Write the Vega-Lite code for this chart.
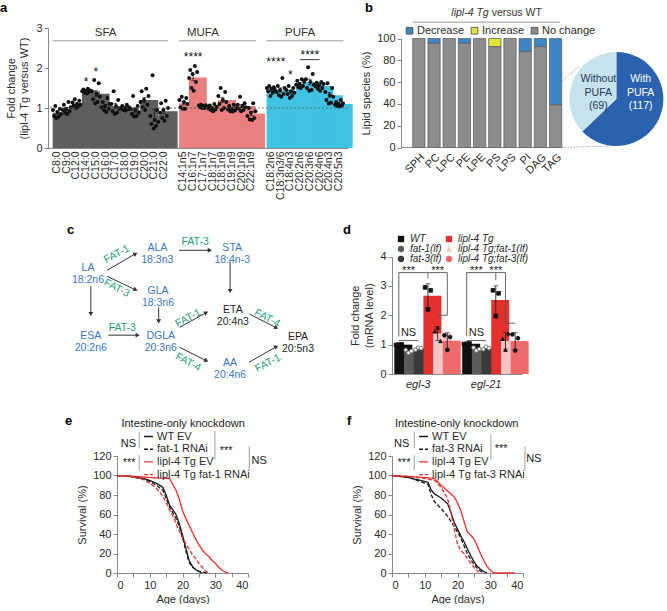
{
"$schema": "https://vega.github.io/schema/vega-lite/v6.json",
"padding": {"left": 0, "top": 1, "right": 0, "bottom": 0},
"background": "#ffffff",
"config": {
 "font": "Liberation Sans",
 "view": {"stroke": null},
 "axis": {"labelFont": "Liberation Sans", "titleFont": "Liberation Sans", "labelFontSize": 11, "titleFontSize": 11, "labelColor": "#2b2b2b", "titleColor": "#2b2b2b", "titleFontWeight": "normal", "domainColor": "#6b6b6b", "tickColor": "#6b6b6b", "domainWidth": 0.8, "tickWidth": 0.8, "tickSize": 4, "grid": false, "labelPadding": 2},
 "legend": {"labelFont": "Liberation Sans", "labelFontSize": 11, "labelColor": "#2b2b2b"},
 "title": {"font": "Liberation Sans", "fontSize": 13, "fontWeight": "bold", "anchor": "start", "frame": "group", "baseline": "alphabetic", "color": "#000000"},
 "text": {"font": "Liberation Sans", "fontSize": 11, "color": "#2b2b2b"}
},
"datasets": {
 "fa": [
  {"fa":"C8:0","g":"SFA","r":3,"v":1.05},{"fa":"C8:0","g":"SFA","r":7,"v":0.98},{"fa":"C8:0","g":"SFA","r":1,"v":0.95},{"fa":"C8:0","g":"SFA","r":5,"v":0.9},{"fa":"C8:0","g":"SFA","r":8,"v":0.85},{"fa":"C8:0","g":"SFA","r":2,"v":0.8},{"fa":"C8:0","g":"SFA","r":6,"v":0.78},{"fa":"C8:0","g":"SFA","r":4,"v":0.75},
  {"fa":"C9:0","g":"SFA","r":6,"v":1.15},{"fa":"C9:0","g":"SFA","r":2,"v":1.08},{"fa":"C9:0","g":"SFA","r":8,"v":1.02},{"fa":"C9:0","g":"SFA","r":4,"v":0.98},{"fa":"C9:0","g":"SFA","r":1,"v":0.95},{"fa":"C9:0","g":"SFA","r":7,"v":0.92},{"fa":"C9:0","g":"SFA","r":3,"v":0.88},{"fa":"C9:0","g":"SFA","r":5,"v":0.85},
  {"fa":"C12:0","g":"SFA","r":3,"v":1.22},{"fa":"C12:0","g":"SFA","r":7,"v":1.18},{"fa":"C12:0","g":"SFA","r":1,"v":1.14},{"fa":"C12:0","g":"SFA","r":5,"v":1.1},{"fa":"C12:0","g":"SFA","r":8,"v":1.08},{"fa":"C12:0","g":"SFA","r":2,"v":1.06},{"fa":"C12:0","g":"SFA","r":6,"v":1.03},{"fa":"C12:0","g":"SFA","r":4,"v":1.0},
  {"fa":"C14:0","g":"SFA","r":6,"v":1.48},{"fa":"C14:0","g":"SFA","r":2,"v":1.46},{"fa":"C14:0","g":"SFA","r":8,"v":1.44},{"fa":"C14:0","g":"SFA","r":4,"v":1.43},{"fa":"C14:0","g":"SFA","r":1,"v":1.42},{"fa":"C14:0","g":"SFA","r":7,"v":1.4},{"fa":"C14:0","g":"SFA","r":3,"v":1.38},{"fa":"C14:0","g":"SFA","r":5,"v":1.36},
  {"fa":"C15:0","g":"SFA","r":3,"v":1.7},{"fa":"C15:0","g":"SFA","r":7,"v":1.62},{"fa":"C15:0","g":"SFA","r":1,"v":1.42},{"fa":"C15:0","g":"SFA","r":5,"v":1.35},{"fa":"C15:0","g":"SFA","r":8,"v":1.28},{"fa":"C15:0","g":"SFA","r":2,"v":1.22},{"fa":"C15:0","g":"SFA","r":6,"v":1.15},{"fa":"C15:0","g":"SFA","r":4,"v":1.12},
  {"fa":"C16:0","g":"SFA","r":6,"v":1.25},{"fa":"C16:0","g":"SFA","r":2,"v":1.15},{"fa":"C16:0","g":"SFA","r":8,"v":1.1},{"fa":"C16:0","g":"SFA","r":4,"v":1.05},{"fa":"C16:0","g":"SFA","r":1,"v":1.02},{"fa":"C16:0","g":"SFA","r":7,"v":0.98},{"fa":"C16:0","g":"SFA","r":3,"v":0.95},{"fa":"C16:0","g":"SFA","r":5,"v":0.9},
  {"fa":"C17:0","g":"SFA","r":3,"v":1.42},{"fa":"C17:0","g":"SFA","r":7,"v":1.2},{"fa":"C17:0","g":"SFA","r":1,"v":1.1},{"fa":"C17:0","g":"SFA","r":5,"v":1.05},{"fa":"C17:0","g":"SFA","r":8,"v":0.98},{"fa":"C17:0","g":"SFA","r":2,"v":0.92},{"fa":"C17:0","g":"SFA","r":6,"v":0.88},{"fa":"C17:0","g":"SFA","r":4,"v":0.85},
  {"fa":"C18:0","g":"SFA","r":6,"v":1.08},{"fa":"C18:0","g":"SFA","r":2,"v":1.05},{"fa":"C18:0","g":"SFA","r":8,"v":1.02},{"fa":"C18:0","g":"SFA","r":4,"v":1.0},{"fa":"C18:0","g":"SFA","r":1,"v":0.99},{"fa":"C18:0","g":"SFA","r":7,"v":0.97},{"fa":"C18:0","g":"SFA","r":3,"v":0.95},{"fa":"C18:0","g":"SFA","r":5,"v":0.94},
  {"fa":"C19:0","g":"SFA","r":3,"v":1.3},{"fa":"C19:0","g":"SFA","r":7,"v":1.05},{"fa":"C19:0","g":"SFA","r":1,"v":0.98},{"fa":"C19:0","g":"SFA","r":5,"v":0.95},{"fa":"C19:0","g":"SFA","r":8,"v":0.88},{"fa":"C19:0","g":"SFA","r":2,"v":0.85},{"fa":"C19:0","g":"SFA","r":6,"v":0.8},{"fa":"C19:0","g":"SFA","r":4,"v":0.79},
  {"fa":"C20:0","g":"SFA","r":6,"v":1.48},{"fa":"C20:0","g":"SFA","r":2,"v":1.42},{"fa":"C20:0","g":"SFA","r":8,"v":1.3},{"fa":"C20:0","g":"SFA","r":4,"v":1.2},{"fa":"C20:0","g":"SFA","r":1,"v":1.15},{"fa":"C20:0","g":"SFA","r":7,"v":1.08},{"fa":"C20:0","g":"SFA","r":3,"v":1.02},{"fa":"C20:0","g":"SFA","r":5,"v":0.95},
  {"fa":"C21:0","g":"SFA","r":3,"v":1.82},{"fa":"C21:0","g":"SFA","r":7,"v":0.95},{"fa":"C21:0","g":"SFA","r":1,"v":0.8},{"fa":"C21:0","g":"SFA","r":5,"v":0.7},{"fa":"C21:0","g":"SFA","r":8,"v":0.65},{"fa":"C21:0","g":"SFA","r":2,"v":0.6},{"fa":"C21:0","g":"SFA","r":6,"v":0.55},{"fa":"C21:0","g":"SFA","r":4,"v":0.49},
  {"fa":"C22:0","g":"SFA","r":6,"v":1.18},{"fa":"C22:0","g":"SFA","r":2,"v":1.12},{"fa":"C22:0","g":"SFA","r":8,"v":1.0},{"fa":"C22:0","g":"SFA","r":4,"v":0.95},{"fa":"C22:0","g":"SFA","r":1,"v":0.88},{"fa":"C22:0","g":"SFA","r":7,"v":0.8},{"fa":"C22:0","g":"SFA","r":3,"v":0.75},{"fa":"C22:0","g":"SFA","r":5,"v":0.68},
  {"fa":"C14:1n5","g":"MUFA","r":3,"v":1.28},{"fa":"C14:1n5","g":"MUFA","r":7,"v":1.25},{"fa":"C14:1n5","g":"MUFA","r":1,"v":1.2},{"fa":"C14:1n5","g":"MUFA","r":5,"v":1.15},{"fa":"C14:1n5","g":"MUFA","r":8,"v":1.1},{"fa":"C14:1n5","g":"MUFA","r":2,"v":1.02},{"fa":"C14:1n5","g":"MUFA","r":6,"v":0.98},{"fa":"C14:1n5","g":"MUFA","r":4,"v":0.98},
  {"fa":"C16:1n7","g":"MUFA","r":6,"v":2.05},{"fa":"C16:1n7","g":"MUFA","r":2,"v":1.95},{"fa":"C16:1n7","g":"MUFA","r":8,"v":1.9},{"fa":"C16:1n7","g":"MUFA","r":4,"v":1.85},{"fa":"C16:1n7","g":"MUFA","r":1,"v":1.75},{"fa":"C16:1n7","g":"MUFA","r":7,"v":1.65},{"fa":"C16:1n7","g":"MUFA","r":3,"v":1.5},{"fa":"C16:1n7","g":"MUFA","r":5,"v":1.43},
  {"fa":"C17:1n7","g":"MUFA","r":3,"v":1.08},{"fa":"C17:1n7","g":"MUFA","r":7,"v":1.07},{"fa":"C17:1n7","g":"MUFA","r":1,"v":1.06},{"fa":"C17:1n7","g":"MUFA","r":5,"v":1.05},{"fa":"C17:1n7","g":"MUFA","r":8,"v":1.04},{"fa":"C17:1n7","g":"MUFA","r":2,"v":1.02},{"fa":"C17:1n7","g":"MUFA","r":6,"v":1.0},{"fa":"C17:1n7","g":"MUFA","r":4,"v":1.0},
  {"fa":"C18:1n7","g":"MUFA","r":6,"v":1.1},{"fa":"C18:1n7","g":"MUFA","r":2,"v":1.06},{"fa":"C18:1n7","g":"MUFA","r":8,"v":1.03},{"fa":"C18:1n7","g":"MUFA","r":4,"v":1.0},{"fa":"C18:1n7","g":"MUFA","r":1,"v":0.98},{"fa":"C18:1n7","g":"MUFA","r":7,"v":0.96},{"fa":"C18:1n7","g":"MUFA","r":3,"v":0.95},{"fa":"C18:1n7","g":"MUFA","r":5,"v":0.92},
  {"fa":"C18:1n9","g":"MUFA","r":3,"v":1.5},{"fa":"C18:1n9","g":"MUFA","r":7,"v":1.4},{"fa":"C18:1n9","g":"MUFA","r":1,"v":1.3},{"fa":"C18:1n9","g":"MUFA","r":5,"v":1.2},{"fa":"C18:1n9","g":"MUFA","r":8,"v":1.15},{"fa":"C18:1n9","g":"MUFA","r":2,"v":1.1},{"fa":"C18:1n9","g":"MUFA","r":6,"v":1.0},{"fa":"C18:1n9","g":"MUFA","r":4,"v":0.95},
  {"fa":"C19:1n9","g":"MUFA","r":6,"v":1.08},{"fa":"C19:1n9","g":"MUFA","r":2,"v":1.05},{"fa":"C19:1n9","g":"MUFA","r":8,"v":1.0},{"fa":"C19:1n9","g":"MUFA","r":4,"v":0.98},{"fa":"C19:1n9","g":"MUFA","r":1,"v":0.96},{"fa":"C19:1n9","g":"MUFA","r":7,"v":0.94},{"fa":"C19:1n9","g":"MUFA","r":3,"v":0.92},{"fa":"C19:1n9","g":"MUFA","r":5,"v":0.91},
  {"fa":"C20:1n9","g":"MUFA","r":3,"v":1.28},{"fa":"C20:1n9","g":"MUFA","r":7,"v":1.12},{"fa":"C20:1n9","g":"MUFA","r":1,"v":1.08},{"fa":"C20:1n9","g":"MUFA","r":5,"v":1.05},{"fa":"C20:1n9","g":"MUFA","r":8,"v":1.02},{"fa":"C20:1n9","g":"MUFA","r":2,"v":0.98},{"fa":"C20:1n9","g":"MUFA","r":6,"v":0.95},{"fa":"C20:1n9","g":"MUFA","r":4,"v":0.92},
  {"fa":"C22:1n9","g":"MUFA","r":6,"v":1.12},{"fa":"C22:1n9","g":"MUFA","r":2,"v":1.0},{"fa":"C22:1n9","g":"MUFA","r":8,"v":0.92},{"fa":"C22:1n9","g":"MUFA","r":4,"v":0.88},{"fa":"C22:1n9","g":"MUFA","r":1,"v":0.8},{"fa":"C22:1n9","g":"MUFA","r":7,"v":0.75},{"fa":"C22:1n9","g":"MUFA","r":3,"v":0.71},{"fa":"C22:1n9","g":"MUFA","r":5,"v":0.7},
  {"fa":"C18:2n6","g":"PUFA","r":3,"v":1.55},{"fa":"C18:2n6","g":"PUFA","r":7,"v":1.52},{"fa":"C18:2n6","g":"PUFA","r":1,"v":1.5},{"fa":"C18:2n6","g":"PUFA","r":5,"v":1.48},{"fa":"C18:2n6","g":"PUFA","r":8,"v":1.45},{"fa":"C18:2n6","g":"PUFA","r":2,"v":1.42},{"fa":"C18:2n6","g":"PUFA","r":6,"v":1.38},{"fa":"C18:2n6","g":"PUFA","r":4,"v":1.3},
  {"fa":"C18:3n3/6","g":"PUFA","r":6,"v":1.75},{"fa":"C18:3n3/6","g":"PUFA","r":2,"v":1.55},{"fa":"C18:3n3/6","g":"PUFA","r":8,"v":1.5},{"fa":"C18:3n3/6","g":"PUFA","r":4,"v":1.45},{"fa":"C18:3n3/6","g":"PUFA","r":1,"v":1.4},{"fa":"C18:3n3/6","g":"PUFA","r":7,"v":1.35},{"fa":"C18:3n3/6","g":"PUFA","r":3,"v":1.32},{"fa":"C18:3n3/6","g":"PUFA","r":5,"v":1.28},
  {"fa":"C18:4n3","g":"PUFA","r":3,"v":1.55},{"fa":"C18:4n3","g":"PUFA","r":7,"v":1.5},{"fa":"C18:4n3","g":"PUFA","r":1,"v":1.45},{"fa":"C18:4n3","g":"PUFA","r":5,"v":1.42},{"fa":"C18:4n3","g":"PUFA","r":8,"v":1.38},{"fa":"C18:4n3","g":"PUFA","r":2,"v":1.35},{"fa":"C18:4n3","g":"PUFA","r":6,"v":1.3},{"fa":"C18:4n3","g":"PUFA","r":4,"v":1.25},
  {"fa":"C20:2n6","g":"PUFA","r":6,"v":1.72},{"fa":"C20:2n6","g":"PUFA","r":2,"v":1.68},{"fa":"C20:2n6","g":"PUFA","r":8,"v":1.65},{"fa":"C20:2n6","g":"PUFA","r":4,"v":1.6},{"fa":"C20:2n6","g":"PUFA","r":1,"v":1.58},{"fa":"C20:2n6","g":"PUFA","r":7,"v":1.55},{"fa":"C20:2n6","g":"PUFA","r":3,"v":1.52},{"fa":"C20:2n6","g":"PUFA","r":5,"v":1.5},
  {"fa":"C20:3n6","g":"PUFA","r":3,"v":2.02},{"fa":"C20:3n6","g":"PUFA","r":7,"v":1.85},{"fa":"C20:3n6","g":"PUFA","r":1,"v":1.72},{"fa":"C20:3n6","g":"PUFA","r":5,"v":1.65},{"fa":"C20:3n6","g":"PUFA","r":8,"v":1.58},{"fa":"C20:3n6","g":"PUFA","r":2,"v":1.5},{"fa":"C20:3n6","g":"PUFA","r":6,"v":1.45},{"fa":"C20:3n6","g":"PUFA","r":4,"v":1.43},
  {"fa":"C20:4n6","g":"PUFA","r":6,"v":1.65},{"fa":"C20:4n6","g":"PUFA","r":2,"v":1.63},{"fa":"C20:4n6","g":"PUFA","r":8,"v":1.6},{"fa":"C20:4n6","g":"PUFA","r":4,"v":1.57},{"fa":"C20:4n6","g":"PUFA","r":1,"v":1.54},{"fa":"C20:4n6","g":"PUFA","r":7,"v":1.5},{"fa":"C20:4n6","g":"PUFA","r":3,"v":1.48},{"fa":"C20:4n6","g":"PUFA","r":5,"v":1.43},
  {"fa":"C20:4n3","g":"PUFA","r":3,"v":1.62},{"fa":"C20:4n3","g":"PUFA","r":7,"v":1.5},{"fa":"C20:4n3","g":"PUFA","r":1,"v":1.4},{"fa":"C20:4n3","g":"PUFA","r":5,"v":1.32},{"fa":"C20:4n3","g":"PUFA","r":8,"v":1.28},{"fa":"C20:4n3","g":"PUFA","r":2,"v":1.2},{"fa":"C20:4n3","g":"PUFA","r":6,"v":1.13},{"fa":"C20:4n3","g":"PUFA","r":4,"v":1.11},
  {"fa":"C20:5n3","g":"PUFA","r":6,"v":1.2},{"fa":"C20:5n3","g":"PUFA","r":2,"v":1.15},{"fa":"C20:5n3","g":"PUFA","r":8,"v":1.12},{"fa":"C20:5n3","g":"PUFA","r":4,"v":1.1},{"fa":"C20:5n3","g":"PUFA","r":1,"v":1.08},{"fa":"C20:5n3","g":"PUFA","r":7,"v":1.06},{"fa":"C20:5n3","g":"PUFA","r":3,"v":1.05},{"fa":"C20:5n3","g":"PUFA","r":5,"v":1.04}
 ],
 "fahdr": [
  {"a":"C8:0","b":"C22:0","v":2.68,"c":"C16:0","tv":2.87,"t":"SFA"},
  {"a":"C14:1n5","b":"C22:1n9","v":2.68,"c":"C17:1n7","tv":2.87,"t":"MUFA"},
  {"a":"C18:2n6","b":"C20:5n3","v":2.68,"c":"C20:2n6","tv":2.87,"t":"PUFA"}
 ],
 "fastar": [
  {"fa":"C14:0","v":1.55,"t":"*"},{"fa":"C15:0","v":1.8,"t":"*"},{"fa":"C16:1n7","v":2.17,"t":"****"},
  {"fa":"C18:2n6","v":2.05,"t":"**"},{"fa":"C18:3n3/6","v":2.05,"t":"**"},{"fa":"C18:4n3","v":1.72,"t":"*"},{"fa":"C20:3n6","v":2.22,"t":"****"}
 ],
 "lip": [
  {"c":"SPH","k":"No change","p":100},
  {"c":"PC","k":"Decrease","p":4.5},{"c":"PC","k":"No change","p":95.5},
  {"c":"LPC","k":"No change","p":100},
  {"c":"PE","k":"Decrease","p":4.5},{"c":"PE","k":"No change","p":95.5},
  {"c":"LPE","k":"No change","p":100},
  {"c":"PS","k":"Increase","p":7.5},{"c":"PS","k":"No change","p":92.5},
  {"c":"LPS","k":"No change","p":100},
  {"c":"PI","k":"Decrease","p":12},{"c":"PI","k":"No change","p":88},
  {"c":"DAG","k":"Decrease","p":7.5},{"c":"DAG","k":"No change","p":92.5},
  {"c":"TAG","k":"Decrease","p":61},{"c":"TAG","k":"No change","p":39}
 ],
 "pie": [{"grp":"With PUFA","n":117},{"grp":"Without PUFA","n":69}],
 "conn": [{"from":"TAG","to":"_2","y1":61,"y2":75},{"from":"TAG","to":"_4","y1":0,"y2":1.4}],
 "nodes": [
  {"n":"LA\n18:2n6","u":0,"v":1.0,"hl":"yes"},
  {"n":"ALA\n18:3n3","u":0.99,"v":0.12,"hl":"yes"},
  {"n":"STA\n18:4n-3","u":2.06,"v":0.12,"hl":"yes"},
  {"n":"GLA\n18:3n6","u":1.0,"v":2.01,"hl":"yes"},
  {"n":"ETA\n20:4n3","u":2.07,"v":2.84,"hl":"no"},
  {"n":"ESA\n20:2n6","u":0.04,"v":3.97,"hl":"yes"},
  {"n":"DGLA\n20:3n6","u":1.04,"v":3.97,"hl":"yes"},
  {"n":"EPA\n20:5n3","u":3.0,"v":4.01,"hl":"no"},
  {"n":"AA\n20:4n6","u":2.03,"v":5.14,"hl":"yes"}
 ],
 "edges": [
  {"u1":0.27,"v1":1.10,"u2":0.68,"v2":0.38,"dir":"ne"},
  {"u1":0.27,"v1":1.36,"u2":0.68,"v2":1.95,"dir":"se"},
  {"u1":1.30,"v1":0.23,"u2":1.74,"v2":0.23,"dir":"e"},
  {"u1":2.03,"v1":0.71,"u2":2.03,"v2":2.0,"dir":"s"},
  {"u1":0.04,"v1":1.79,"u2":0.04,"v2":3.0,"dir":"s"},
  {"u1":1.01,"v1":2.71,"u2":1.01,"v2":3.32,"dir":"s"},
  {"u1":0.29,"v1":3.92,"u2":0.71,"v2":3.92,"dir":"e"},
  {"u1":1.31,"v1":3.58,"u2":1.69,"v2":2.94,"dir":"ne"},
  {"u1":2.31,"v1":3.01,"u2":2.69,"v2":3.6,"dir":"se"},
  {"u1":1.31,"v1":4.45,"u2":1.69,"v2":5.03,"dir":"se"},
  {"u1":2.30,"v1":5.10,"u2":2.69,"v2":4.42,"dir":"ne"}
 ],
 "enz": [
  {"e":"FAT-1","u":0.41,"v":0.4,"tilt":"up"},
  {"e":"FAT-3","u":0.41,"v":1.88,"tilt":"down"},
  {"e":"FAT-3","u":1.53,"v":-0.12,"tilt":"flat"},
  {"e":"FAT-3","u":0.49,"v":3.62,"tilt":"flat"},
  {"e":"FAT-1","u":1.43,"v":3.18,"tilt":"up"},
  {"e":"FAT-4","u":2.56,"v":3.18,"tilt":"down"},
  {"e":"FAT-4","u":1.43,"v":5.1,"tilt":"down"},
  {"e":"FAT-1","u":2.57,"v":5.14,"tilt":"up"}
 ],
 "q": [
  {"gt":"WT","slot":"egl-3/WT","rep":1,"v":0.99},{"gt":"WT","slot":"egl-3/WT","rep":2,"v":1.0},{"gt":"WT","slot":"egl-3/WT","rep":3,"v":1.01},
  {"gt":"fat-1(lf)","slot":"egl-3/fat-1(lf)","rep":1,"v":0.82},{"gt":"fat-1(lf)","slot":"egl-3/fat-1(lf)","rep":2,"v":0.72},{"gt":"fat-1(lf)","slot":"egl-3/fat-1(lf)","rep":3,"v":0.78},
  {"gt":"fat-3(lf)","slot":"egl-3/fat-3(lf)","rep":1,"v":0.83},{"gt":"fat-3(lf)","slot":"egl-3/fat-3(lf)","rep":2,"v":0.9},{"gt":"fat-3(lf)","slot":"egl-3/fat-3(lf)","rep":3,"v":0.88},
  {"gt":"lipl-4 Tg","slot":"egl-3/lipl-4 Tg","rep":1,"v":2.95},{"gt":"lipl-4 Tg","slot":"egl-3/lipl-4 Tg","rep":2,"v":2.2},{"gt":"lipl-4 Tg","slot":"egl-3/lipl-4 Tg","rep":3,"v":2.85},
  {"gt":"lipl-4 Tg;fat-1(lf)","slot":"egl-3/lipl-4 Tg;fat-1(lf)","rep":1,"v":1.45},{"gt":"lipl-4 Tg;fat-1(lf)","slot":"egl-3/lipl-4 Tg;fat-1(lf)","rep":2,"v":1.58},{"gt":"lipl-4 Tg;fat-1(lf)","slot":"egl-3/lipl-4 Tg;fat-1(lf)","rep":3,"v":1.12},
  {"gt":"lipl-4 Tg;fat-3(lf)","slot":"egl-3/lipl-4 Tg;fat-3(lf)","rep":1,"v":1.32},{"gt":"lipl-4 Tg;fat-3(lf)","slot":"egl-3/lipl-4 Tg;fat-3(lf)","rep":2,"v":0.82},{"gt":"lipl-4 Tg;fat-3(lf)","slot":"egl-3/lipl-4 Tg;fat-3(lf)","rep":3,"v":1.26},
  {"gt":"WT","slot":"egl-21/WT","rep":1,"v":1.02},{"gt":"WT","slot":"egl-21/WT","rep":2,"v":1.03},{"gt":"WT","slot":"egl-21/WT","rep":3,"v":1.04},
  {"gt":"fat-1(lf)","slot":"egl-21/fat-1(lf)","rep":1,"v":0.9},{"gt":"fat-1(lf)","slot":"egl-21/fat-1(lf)","rep":2,"v":0.8},{"gt":"fat-1(lf)","slot":"egl-21/fat-1(lf)","rep":3,"v":0.85},
  {"gt":"fat-3(lf)","slot":"egl-21/fat-3(lf)","rep":1,"v":0.84},{"gt":"fat-3(lf)","slot":"egl-21/fat-3(lf)","rep":2,"v":0.93},{"gt":"fat-3(lf)","slot":"egl-21/fat-3(lf)","rep":3,"v":0.88},
  {"gt":"lipl-4 Tg","slot":"egl-21/lipl-4 Tg","rep":1,"v":2.85},{"gt":"lipl-4 Tg","slot":"egl-21/lipl-4 Tg","rep":2,"v":1.97},{"gt":"lipl-4 Tg","slot":"egl-21/lipl-4 Tg","rep":3,"v":2.75},
  {"gt":"lipl-4 Tg;fat-1(lf)","slot":"egl-21/lipl-4 Tg;fat-1(lf)","rep":1,"v":1.2},{"gt":"lipl-4 Tg;fat-1(lf)","slot":"egl-21/lipl-4 Tg;fat-1(lf)","rep":2,"v":0.82},{"gt":"lipl-4 Tg;fat-1(lf)","slot":"egl-21/lipl-4 Tg;fat-1(lf)","rep":3,"v":1.38},
  {"gt":"lipl-4 Tg;fat-3(lf)","slot":"egl-21/lipl-4 Tg;fat-3(lf)","rep":1,"v":1.35},{"gt":"lipl-4 Tg;fat-3(lf)","slot":"egl-21/lipl-4 Tg;fat-3(lf)","rep":2,"v":0.8},{"gt":"lipl-4 Tg;fat-3(lf)","slot":"egl-21/lipl-4 Tg;fat-3(lf)","rep":3,"v":1.22}
 ],
 "dbr": [
  {"a":"egl-3/WT","b":"egl-3/lipl-4 Tg","y1":3.455,"y2":3.455},
  {"a":"egl-3/lipl-4 Tg","b":"egl-3/lipl-4 Tg;fat-3(lf)","y1":3.455,"y2":3.455},
  {"a":"egl-3/WT","b":"egl-3/WT","y1":3.455,"y2":1.28},
  {"a":"egl-3/lipl-4 Tg","b":"egl-3/lipl-4 Tg","y1":3.455,"y2":3.26},
  {"a":"egl-3/lipl-4 Tg;fat-3(lf)","b":"egl-3/lipl-4 Tg;fat-3(lf)","y1":3.455,"y2":2.0},
  {"a":"egl-3/lipl-4 Tg;fat-1(lf)","b":"egl-3/lipl-4 Tg;fat-3(lf)","y1":2.0,"y2":2.0},
  {"a":"egl-3/WT","b":"egl-3/fat-3(lf)","y1":1.14,"y2":1.14},
  {"a":"egl-21/WT","b":"egl-21/lipl-4 Tg","y1":3.455,"y2":3.455},
  {"a":"egl-21/lipl-4 Tg","b":"egl-21/lipl-4 Tg;fat-1(lf)","y1":3.455,"y2":3.455},
  {"a":"egl-21/WT","b":"egl-21/WT","y1":3.455,"y2":1.28},
  {"a":"egl-21/lipl-4 Tg","b":"egl-21/lipl-4 Tg","y1":3.455,"y2":3.2},
  {"a":"egl-21/lipl-4 Tg;fat-1(lf)","b":"egl-21/lipl-4 Tg;fat-1(lf)","y1":3.455,"y2":1.73},
  {"a":"egl-21/lipl-4 Tg;fat-1(lf)","b":"egl-21/lipl-4 Tg;fat-3(lf)","y1":1.73,"y2":1.73},
  {"a":"egl-21/WT","b":"egl-21/fat-3(lf)","y1":1.14,"y2":1.14}
 ],
 "dtx": [
  {"slot":"egl-3/fat-1(lf)","v":3.41,"t":"***"},
  {"slot":"egl-3/lipl-4 Tg;fat-1(lf)","v":3.41,"t":"***"},
  {"slot":"egl-21/fat-1(lf)","v":3.41,"t":"***"},
  {"slot":"egl-21/lipl-4 Tg","v":3.41,"t":"***"},
  {"slot":"egl-3/fat-1(lf)","v":1.28,"t":"NS"},
  {"slot":"egl-21/fat-1(lf)","v":1.28,"t":"NS"}
 ],
 "se": [
  {"grp":"WT EV","d":0,"s":100},{"grp":"WT EV","d":4,"s":99},{"grp":"WT EV","d":8,"s":97},{"grp":"WT EV","d":10,"s":95},{"grp":"WT EV","d":12,"s":92},{"grp":"WT EV","d":14,"s":88},{"grp":"WT EV","d":15,"s":80},{"grp":"WT EV","d":16,"s":70},{"grp":"WT EV","d":17,"s":65},{"grp":"WT EV","d":18,"s":60},{"grp":"WT EV","d":19,"s":51},{"grp":"WT EV","d":20,"s":39},{"grp":"WT EV","d":21,"s":26},{"grp":"WT EV","d":22,"s":13},{"grp":"WT EV","d":23,"s":7},{"grp":"WT EV","d":24,"s":3.5},{"grp":"WT EV","d":25,"s":1.5},{"grp":"WT EV","d":26,"s":0},
  {"grp":"fat-1 RNAi","d":0,"s":100},{"grp":"fat-1 RNAi","d":4,"s":99},{"grp":"fat-1 RNAi","d":8,"s":96.5},{"grp":"fat-1 RNAi","d":10,"s":94},{"grp":"fat-1 RNAi","d":12,"s":90},{"grp":"fat-1 RNAi","d":14,"s":85},{"grp":"fat-1 RNAi","d":15,"s":77},{"grp":"fat-1 RNAi","d":16,"s":68},{"grp":"fat-1 RNAi","d":17,"s":62},{"grp":"fat-1 RNAi","d":18,"s":56},{"grp":"fat-1 RNAi","d":19,"s":48},{"grp":"fat-1 RNAi","d":20,"s":37},{"grp":"fat-1 RNAi","d":21,"s":23},{"grp":"fat-1 RNAi","d":22,"s":11},{"grp":"fat-1 RNAi","d":23,"s":6},{"grp":"fat-1 RNAi","d":24,"s":3.5},{"grp":"fat-1 RNAi","d":25,"s":2},{"grp":"fat-1 RNAi","d":26,"s":1},{"grp":"fat-1 RNAi","d":27.5,"s":0},
  {"grp":"lipl-4 Tg EV","d":0,"s":100},{"grp":"lipl-4 Tg EV","d":4,"s":99.5},{"grp":"lipl-4 Tg EV","d":8,"s":98.5},{"grp":"lipl-4 Tg EV","d":12,"s":97.5},{"grp":"lipl-4 Tg EV","d":16,"s":97},{"grp":"lipl-4 Tg EV","d":17,"s":91},{"grp":"lipl-4 Tg EV","d":18,"s":85},{"grp":"lipl-4 Tg EV","d":19,"s":76},{"grp":"lipl-4 Tg EV","d":20,"s":64},{"grp":"lipl-4 Tg EV","d":21,"s":56},{"grp":"lipl-4 Tg EV","d":22,"s":49},{"grp":"lipl-4 Tg EV","d":23,"s":42},{"grp":"lipl-4 Tg EV","d":24,"s":35},{"grp":"lipl-4 Tg EV","d":25,"s":29},{"grp":"lipl-4 Tg EV","d":26,"s":24},{"grp":"lipl-4 Tg EV","d":27,"s":20},{"grp":"lipl-4 Tg EV","d":28,"s":17},{"grp":"lipl-4 Tg EV","d":29,"s":13},{"grp":"lipl-4 Tg EV","d":30,"s":10},{"grp":"lipl-4 Tg EV","d":31,"s":6},{"grp":"lipl-4 Tg EV","d":32,"s":3},{"grp":"lipl-4 Tg EV","d":33,"s":1},{"grp":"lipl-4 Tg EV","d":34,"s":0},
  {"grp":"lipl-4 Tg fat-1 RNAi","d":0,"s":100},{"grp":"lipl-4 Tg fat-1 RNAi","d":4,"s":99},{"grp":"lipl-4 Tg fat-1 RNAi","d":8,"s":96},{"grp":"lipl-4 Tg fat-1 RNAi","d":10,"s":92},{"grp":"lipl-4 Tg fat-1 RNAi","d":12,"s":87},{"grp":"lipl-4 Tg fat-1 RNAi","d":14,"s":79},{"grp":"lipl-4 Tg fat-1 RNAi","d":15,"s":72},{"grp":"lipl-4 Tg fat-1 RNAi","d":16,"s":65},{"grp":"lipl-4 Tg fat-1 RNAi","d":17,"s":59},{"grp":"lipl-4 Tg fat-1 RNAi","d":18,"s":51},{"grp":"lipl-4 Tg fat-1 RNAi","d":19,"s":43},{"grp":"lipl-4 Tg fat-1 RNAi","d":20,"s":36},{"grp":"lipl-4 Tg fat-1 RNAi","d":21,"s":30},{"grp":"lipl-4 Tg fat-1 RNAi","d":22,"s":25},{"grp":"lipl-4 Tg fat-1 RNAi","d":23,"s":19},{"grp":"lipl-4 Tg fat-1 RNAi","d":24,"s":15},{"grp":"lipl-4 Tg fat-1 RNAi","d":25,"s":10},{"grp":"lipl-4 Tg fat-1 RNAi","d":26,"s":6},{"grp":"lipl-4 Tg fat-1 RNAi","d":27,"s":2},{"grp":"lipl-4 Tg fat-1 RNAi","d":28,"s":0}
 ],
 "sf": [
  {"grp":"WT EV","d":0,"s":100},{"grp":"WT EV","d":5,"s":98},{"grp":"WT EV","d":11,"s":93},{"grp":"WT EV","d":12,"s":85},{"grp":"WT EV","d":13,"s":81},{"grp":"WT EV","d":15,"s":77},{"grp":"WT EV","d":17,"s":71},{"grp":"WT EV","d":18,"s":62},{"grp":"WT EV","d":19,"s":52},{"grp":"WT EV","d":20,"s":45},{"grp":"WT EV","d":21,"s":38},{"grp":"WT EV","d":22,"s":32},{"grp":"WT EV","d":23,"s":25},{"grp":"WT EV","d":24,"s":18},{"grp":"WT EV","d":25,"s":12},{"grp":"WT EV","d":26,"s":7},{"grp":"WT EV","d":27,"s":4},{"grp":"WT EV","d":28,"s":1.5},{"grp":"WT EV","d":29,"s":0},
  {"grp":"fat-3 RNAi","d":0,"s":100},{"grp":"fat-3 RNAi","d":5,"s":98},{"grp":"fat-3 RNAi","d":11,"s":91},{"grp":"fat-3 RNAi","d":12,"s":80},{"grp":"fat-3 RNAi","d":13,"s":73},{"grp":"fat-3 RNAi","d":15,"s":66},{"grp":"fat-3 RNAi","d":17,"s":58},{"grp":"fat-3 RNAi","d":19,"s":48},{"grp":"fat-3 RNAi","d":20,"s":42},{"grp":"fat-3 RNAi","d":21,"s":36},{"grp":"fat-3 RNAi","d":22,"s":28},{"grp":"fat-3 RNAi","d":23,"s":20},{"grp":"fat-3 RNAi","d":24,"s":14},{"grp":"fat-3 RNAi","d":25,"s":9},{"grp":"fat-3 RNAi","d":26,"s":5},{"grp":"fat-3 RNAi","d":27,"s":2},{"grp":"fat-3 RNAi","d":28,"s":0},
  {"grp":"lipl-4 Tg EV","d":0,"s":100},{"grp":"lipl-4 Tg EV","d":5,"s":99},{"grp":"lipl-4 Tg EV","d":10,"s":98},{"grp":"lipl-4 Tg EV","d":13,"s":97},{"grp":"lipl-4 Tg EV","d":15,"s":90},{"grp":"lipl-4 Tg EV","d":17,"s":84},{"grp":"lipl-4 Tg EV","d":19,"s":78},{"grp":"lipl-4 Tg EV","d":20,"s":72},{"grp":"lipl-4 Tg EV","d":21,"s":64},{"grp":"lipl-4 Tg EV","d":22,"s":53},{"grp":"lipl-4 Tg EV","d":23,"s":42},{"grp":"lipl-4 Tg EV","d":24,"s":39},{"grp":"lipl-4 Tg EV","d":25,"s":35},{"grp":"lipl-4 Tg EV","d":26,"s":28},{"grp":"lipl-4 Tg EV","d":27,"s":20},{"grp":"lipl-4 Tg EV","d":28,"s":13},{"grp":"lipl-4 Tg EV","d":29,"s":7},{"grp":"lipl-4 Tg EV","d":30,"s":3},{"grp":"lipl-4 Tg EV","d":31,"s":0},{"grp":"lipl-4 Tg EV","d":37.5,"s":0},
  {"grp":"lipl-4 Tg fat-3 RNAi","d":0,"s":100},{"grp":"lipl-4 Tg fat-3 RNAi","d":5,"s":99},{"grp":"lipl-4 Tg fat-3 RNAi","d":10,"s":97},{"grp":"lipl-4 Tg fat-3 RNAi","d":13,"s":95},{"grp":"lipl-4 Tg fat-3 RNAi","d":15,"s":88},{"grp":"lipl-4 Tg fat-3 RNAi","d":16,"s":82},{"grp":"lipl-4 Tg fat-3 RNAi","d":17,"s":76},{"grp":"lipl-4 Tg fat-3 RNAi","d":18,"s":62},{"grp":"lipl-4 Tg fat-3 RNAi","d":19,"s":45},{"grp":"lipl-4 Tg fat-3 RNAi","d":20,"s":30},{"grp":"lipl-4 Tg fat-3 RNAi","d":21,"s":23},{"grp":"lipl-4 Tg fat-3 RNAi","d":22,"s":20},{"grp":"lipl-4 Tg fat-3 RNAi","d":23,"s":15},{"grp":"lipl-4 Tg fat-3 RNAi","d":24,"s":10},{"grp":"lipl-4 Tg fat-3 RNAi","d":25,"s":6},{"grp":"lipl-4 Tg fat-3 RNAi","d":26,"s":2},{"grp":"lipl-4 Tg fat-3 RNAi","d":27,"s":0}
 ],
 "ebr": [{"d":6.8,"s1":144.6,"s2":128.2},{"d":6.8,"s1":121,"s2":105.6},{"d":29.9,"s1":145.6,"s2":116},{"d":40.4,"s1":130,"s2":105.6}],
 "etx": [{"d":20.2,"s":153.2,"t":"Intestine-only knockdown"},{"d":3.5,"s":132.5,"t":"NS"},{"d":3.7,"s":112.8,"t":"***"},{"d":33.3,"s":125.1,"t":"***"},{"d":43.4,"s":115,"t":"NS"}],
 "fbr": [{"d":6.8,"s1":144.6,"s2":128.2},{"d":6.8,"s1":121,"s2":105.6},{"d":30.2,"s1":141.5,"s2":116},{"d":40.6,"s1":130,"s2":105.6}],
 "ftx": [{"d":19.75,"s":153.2,"t":"Intestine-only knockdown"},{"d":2.96,"s":132.5,"t":"NS"},{"d":3.66,"s":112.8,"t":"***"},{"d":33.3,"s":127.2,"t":"***"},{"d":43.3,"s":117,"t":"NS"}]
},
"columns": 2,
"bounds": "flush",
"align": "each",
"spacing": {"row": 82, "column": 44},
"resolve": {"scale": {"color": "independent", "fill": "independent", "stroke": "independent", "strokeDash": "independent", "shape": "independent", "xOffset": "independent", "theta": "independent"}},
"concat": [
 {
  "width": 300, "height": 120,
  "title": {"text": "a", "dx": -48, "offset": 7.5},
  "layer": [
   {"data": {"name": "fa"}, "mark": {"type": "bar"},
    "encoding": {
     "x": {"field": "fa", "type": "nominal", "scale": {"domain": ["C8:0","C9:0","C12:0","C14:0","C15:0","C16:0","C17:0","C18:0","C19:0","C20:0","C21:0","C22:0"," ","C14:1n5","C16:1n7","C17:1n7","C18:1n7","C18:1n9","C19:1n9","C20:1n9","C22:1n9","  ","C18:2n6","C18:3n3/6","C18:4n3","C20:2n6","C20:3n6","C20:4n6","C20:4n3","C20:5n3"], "paddingInner": 0.11, "paddingOuter": 0.48}, "axis": {"title": null, "labelAngle": -90, "ticks": false, "labelFontSize": 10.5, "labelPadding": 3}},
     "y": {"aggregate": "mean", "field": "v", "type": "quantitative", "scale": {"domain": [0, 3], "nice": false}, "axis": {"values": [0, 1, 2, 3], "title": ["Fold change", "(lipl-4 Tg versus WT)"], "titlePadding": 6, "titleLineHeight": 13}},
     "color": {"field": "g", "type": "nominal", "scale": {"domain": ["SFA", "MUFA", "PUFA"], "range": ["#5e5e5e", "#e9807f", "#40c2e2"]}, "legend": null}
    }},
   {"data": {"name": "fa"}, "mark": {"type": "errorbar", "extent": "stderr", "ticks": {"size": 4}, "color": "#111111", "thickness": 0.8},
    "encoding": {"x": {"field": "fa", "type": "nominal", "axis": {"title": null, "labelAngle": -90, "ticks": false, "labelFontSize": 10.5, "labelPadding": 3}}, "y": {"field": "v", "type": "quantitative", "axis": {"values": [0, 1, 2, 3], "title": ["Fold change", "(lipl-4 Tg versus WT)"], "titlePadding": 6, "titleLineHeight": 13}}}},
   {"data": {"name": "fa"}, "mark": {"type": "circle", "size": 16, "color": "#111111", "opacity": 1},
    "encoding": {"x": {"field": "fa", "type": "nominal", "axis": {"title": null, "labelAngle": -90, "ticks": false, "labelFontSize": 10.5, "labelPadding": 3}}, "xOffset": {"field": "r", "type": "nominal", "scale": {"paddingOuter": 0.3}}, "y": {"field": "v", "type": "quantitative", "axis": {"values": [0, 1, 2, 3], "title": ["Fold change", "(lipl-4 Tg versus WT)"], "titlePadding": 6, "titleLineHeight": 13}}}},
   {"data": {"values": [{"ref": 1}]}, "mark": {"type": "rule", "strokeDash": [2, 2], "color": "#555555", "strokeWidth": 0.8},
    "encoding": {"y": {"field": "ref", "type": "quantitative", "axis": {"values": [0, 1, 2, 3], "title": ["Fold change", "(lipl-4 Tg versus WT)"], "titlePadding": 6, "titleLineHeight": 13}}}},
   {"data": {"name": "fahdr"}, "mark": {"type": "rule", "color": "#9a9a9a", "strokeWidth": 1},
    "encoding": {"x": {"field": "a", "type": "nominal", "bandPosition": 0, "axis": {"title": null, "labelAngle": -90, "ticks": false, "labelFontSize": 10.5, "labelPadding": 3}}, "x2": {"field": "b", "bandPosition": 1}, "y": {"field": "v", "type": "quantitative", "axis": {"values": [0, 1, 2, 3], "title": ["Fold change", "(lipl-4 Tg versus WT)"], "titlePadding": 6, "titleLineHeight": 13}}}},
   {"data": {"name": "fahdr"}, "mark": {"type": "text", "baseline": "middle", "fontSize": 11.5, "color": "#333333"},
    "encoding": {"x": {"field": "c", "type": "nominal", "axis": {"title": null, "labelAngle": -90, "ticks": false, "labelFontSize": 10.5, "labelPadding": 3}}, "y": {"field": "tv", "type": "quantitative", "axis": {"values": [0, 1, 2, 3], "title": ["Fold change", "(lipl-4 Tg versus WT)"], "titlePadding": 6, "titleLineHeight": 13}}, "text": {"field": "t"}}},
   {"data": {"values": [{"a": "C20:2n6", "b": "C20:4n6", "v": 2.21}]}, "mark": {"type": "rule", "color": "#222222", "strokeWidth": 0.9},
    "encoding": {"x": {"field": "a", "type": "nominal", "axis": {"title": null, "labelAngle": -90, "ticks": false, "labelFontSize": 10.5, "labelPadding": 3}}, "x2": {"field": "b"}, "y": {"field": "v", "type": "quantitative", "axis": {"values": [0, 1, 2, 3], "title": ["Fold change", "(lipl-4 Tg versus WT)"], "titlePadding": 6, "titleLineHeight": 13}}}},
   {"data": {"name": "fastar"}, "mark": {"type": "text", "baseline": "alphabetic", "fontSize": 12, "color": "#111111"},
    "encoding": {"x": {"field": "fa", "type": "nominal", "axis": {"title": null, "labelAngle": -90, "ticks": false, "labelFontSize": 10.5, "labelPadding": 3}}, "y": {"field": "v", "type": "quantitative", "axis": {"values": [0, 1, 2, 3], "title": ["Fold change", "(lipl-4 Tg versus WT)"], "titlePadding": 6, "titleLineHeight": 13}}, "text": {"field": "t"}}}
  ]
 },
 {
  "width": 258, "height": 120,
  "title": {"text": "b", "dx": -27, "offset": -7.5},
  "resolve": {"scale": {"color": "independent"}},
  "layer": [
   {"data": {"name": "lip"}, "mark": {"type": "bar", "stroke": "#5a5a5a", "strokeWidth": 0.7},
    "encoding": {
     "x": {"field": "c", "type": "nominal", "scale": {"domain": ["SPH","PC","LPC","PE","LPE","PS","LPS","PI","DAG","TAG","_1","_2","_3","_4","_5"], "range": [9, 257.4], "paddingInner": 0.19, "paddingOuter": 0.77}, "axis": {"title": null, "labelAngle": -45, "ticks": false, "domain": false, "labelPadding": 3, "labelExpr": "substring(datum.value, 0, 1) == '_' ? '' : datum.value"}},
     "y": {"field": "p", "type": "quantitative", "stack": "zero", "scale": {"domain": [0, 100], "range": [119.5, 10.5], "nice": false}, "axis": {"values": [0, 20, 40, 60, 80, 100], "title": "Lipid species (%)", "offset": -9, "titlePadding": 5}},
     "color": {"field": "k", "type": "nominal", "scale": {"domain": ["Decrease", "Increase", "No change"], "range": ["#3d85c6", "#e3e33a", "#8d8d8d"]}, "legend": {"title": null, "orient": "none", "legendX": 12, "legendY": -3, "direction": "horizontal", "symbolType": "square", "symbolSize": 45, "symbolStrokeColor": "#444444", "symbolStrokeWidth": 0.8, "labelFontSize": 11, "labelOffset": 2, "columnPadding": 4, "padding": 0}}
    }},
   {"data": {"values": [{"a": "SPH", "b": "TAG", "v": 0}]}, "mark": {"type": "rule", "color": "#6b6b6b", "strokeWidth": 0.8},
    "encoding": {"x": {"field": "a", "type": "nominal", "bandPosition": -0.95, "axis": {"title": null, "labelAngle": -45, "ticks": false, "domain": false, "labelPadding": 3, "labelExpr": "substring(datum.value, 0, 1) == '_' ? '' : datum.value"}}, "x2": {"field": "b", "bandPosition": 1}, "y": {"field": "v", "type": "quantitative", "axis": {"values": [0, 20, 40, 60, 80, 100], "title": "Lipid species (%)", "offset": -9, "titlePadding": 5}}}},
   {"data": {"values": [{"a": "SPH", "b": "TAG", "v": 115}]}, "mark": {"type": "rule", "color": "#9a9a9a", "strokeWidth": 1},
    "encoding": {"x": {"field": "a", "type": "nominal", "bandPosition": 0, "axis": {"title": null, "labelAngle": -45, "ticks": false, "domain": false, "labelPadding": 3, "labelExpr": "substring(datum.value, 0, 1) == '_' ? '' : datum.value"}}, "x2": {"field": "b", "bandPosition": 0.85}, "y": {"field": "v", "type": "quantitative", "axis": {"values": [0, 20, 40, 60, 80, 100], "title": "Lipid species (%)", "offset": -9, "titlePadding": 5}}}},
   {"data": {"values": [{"c": "PS", "v": 123.4, "t": "lipl-4 Tg"}]}, "mark": {"type": "text", "align": "right", "baseline": "middle", "fontStyle": "italic", "fontSize": 10.5, "color": "#333333"},
    "encoding": {"x": {"field": "c", "type": "nominal", "bandPosition": 0, "axis": {"title": null, "labelAngle": -45, "ticks": false, "domain": false, "labelPadding": 3, "labelExpr": "substring(datum.value, 0, 1) == '_' ? '' : datum.value"}}, "y": {"field": "v", "type": "quantitative", "axis": {"values": [0, 20, 40, 60, 80, 100], "title": "Lipid species (%)", "offset": -9, "titlePadding": 5}}, "text": {"field": "t"}}},
   {"data": {"values": [{"c": "PS", "v": 123.4, "t": "versus WT"}]}, "mark": {"type": "text", "align": "left", "baseline": "middle", "fontSize": 10.5, "dx": 3, "color": "#333333"},
    "encoding": {"x": {"field": "c", "type": "nominal", "bandPosition": 0, "axis": {"title": null, "labelAngle": -45, "ticks": false, "domain": false, "labelPadding": 3, "labelExpr": "substring(datum.value, 0, 1) == '_' ? '' : datum.value"}}, "y": {"field": "v", "type": "quantitative", "axis": {"values": [0, 20, 40, 60, 80, 100], "title": "Lipid species (%)", "offset": -9, "titlePadding": 5}}, "text": {"field": "t"}}},
   {"data": {"name": "conn"}, "mark": {"type": "rule", "color": "#888888", "strokeWidth": 0.8, "strokeDash": [1.5, 1.5]},
    "encoding": {"x": {"field": "from", "type": "nominal", "bandPosition": 1, "axis": {"title": null, "labelAngle": -45, "ticks": false, "domain": false, "labelPadding": 3, "labelExpr": "substring(datum.value, 0, 1) == '_' ? '' : datum.value"}}, "x2": {"field": "to", "bandPosition": 0}, "y": {"field": "y1", "type": "quantitative", "axis": {"values": [0, 20, 40, 60, 80, 100], "title": "Lipid species (%)", "offset": -9, "titlePadding": 5}}, "y2": {"field": "y2"}}},
   {"data": {"name": "pie"},
    "transform": [{"stack": "n", "groupby": [], "sort": [{"field": "grp", "order": "ascending"}], "as": ["t0", "t1"]}],
    "mark": {"type": "arc", "radius": 47},
    "encoding": {
     "x": {"datum": "_4", "axis": {"title": null, "labelAngle": -45, "ticks": false, "domain": false, "labelPadding": 3, "labelExpr": "substring(datum.value, 0, 1) == '_' ? '' : datum.value"}},
     "y": {"datum": 44.5, "stack": null, "axis": {"values": [0, 20, 40, 60, 80, 100], "title": "Lipid species (%)", "offset": -9, "titlePadding": 5}},
     "theta": {"field": "t0", "type": "quantitative", "scale": {"domain": [0, 186]}},
     "theta2": {"field": "t1"},
     "color": {"field": "grp", "type": "nominal", "scale": {"domain": ["With PUFA", "Without PUFA"], "range": ["#2b62ae", "#c6e3ee"]}, "legend": null}
    }},
   {"data": {"values": [{"t": "Without\nPUFA\n(69)"}]}, "mark": {"type": "text", "lineBreak": "\n", "lineHeight": 13.3, "baseline": "middle", "fontSize": 10.5, "color": "#24385a"},
    "encoding": {"x": {"datum": "_3", "bandPosition": 0.27, "axis": {"title": null, "labelAngle": -45, "ticks": false, "domain": false, "labelPadding": 3, "labelExpr": "substring(datum.value, 0, 1) == '_' ? '' : datum.value"}}, "y": {"datum": 62.5, "axis": {"values": [0, 20, 40, 60, 80, 100], "title": "Lipid species (%)", "offset": -9, "titlePadding": 5}}, "text": {"field": "t"}}},
   {"data": {"values": [{"t": "With\nPUFA\n(117)"}]}, "mark": {"type": "text", "lineBreak": "\n", "lineHeight": 13.3, "baseline": "middle", "fontSize": 10.5, "color": "#ffffff"},
    "encoding": {"x": {"datum": "_5", "bandPosition": 1.24, "axis": {"title": null, "labelAngle": -45, "ticks": false, "domain": false, "labelPadding": 3, "labelExpr": "substring(datum.value, 0, 1) == '_' ? '' : datum.value"}}, "y": {"datum": 62.5, "axis": {"values": [0, 20, 40, 60, 80, 100], "title": "Lipid species (%)", "offset": -9, "titlePadding": 5}}, "text": {"field": "t"}}}
  ]
 },
 {
  "width": 300, "height": 144,
  "title": {"text": "c", "dx": 19, "offset": -6.5},
  "layer": [
   {"data": {"name": "edges"}, "mark": {"type": "rule", "color": "#333333", "strokeWidth": 1},
    "encoding": {"x": {"field": "u1", "type": "quantitative", "scale": {"domain": [0, 3], "range": [40, 250], "nice": false, "zero": false}, "axis": null}, "x2": {"field": "u2"}, "y": {"field": "v1", "type": "quantitative", "scale": {"domain": [0, 5], "range": [15, 130], "nice": false, "zero": false}, "axis": null}, "y2": {"field": "v2"}}},
   {"data": {"name": "edges"}, "transform": [{"filter": "datum.dir == 'ne'"}], "mark": {"type": "point", "shape": "triangle-up", "angle": 61, "filled": true, "size": 24, "color": "#333333", "opacity": 1},
    "encoding": {"x": {"field": "u2", "type": "quantitative", "axis": null}, "y": {"field": "v2", "type": "quantitative", "axis": null}}},
   {"data": {"name": "edges"}, "transform": [{"filter": "datum.dir == 'se'"}], "mark": {"type": "point", "shape": "triangle-up", "angle": 116, "filled": true, "size": 24, "color": "#333333", "opacity": 1},
    "encoding": {"x": {"field": "u2", "type": "quantitative", "axis": null}, "y": {"field": "v2", "type": "quantitative", "axis": null}}},
   {"data": {"name": "edges"}, "transform": [{"filter": "datum.dir == 'e'"}], "mark": {"type": "point", "shape": "triangle-up", "angle": 90, "filled": true, "size": 24, "color": "#333333", "opacity": 1},
    "encoding": {"x": {"field": "u2", "type": "quantitative", "axis": null}, "y": {"field": "v2", "type": "quantitative", "axis": null}}},
   {"data": {"name": "edges"}, "transform": [{"filter": "datum.dir == 's'"}], "mark": {"type": "point", "shape": "triangle-up", "angle": 180, "filled": true, "size": 24, "color": "#333333", "opacity": 1},
    "encoding": {"x": {"field": "u2", "type": "quantitative", "axis": null}, "y": {"field": "v2", "type": "quantitative", "axis": null}}},
   {"data": {"name": "nodes"}, "mark": {"type": "text", "lineBreak": "\n", "lineHeight": 12, "baseline": "middle", "fontSize": 10.5},
    "encoding": {"x": {"field": "u", "type": "quantitative", "axis": null}, "y": {"field": "v", "type": "quantitative", "axis": null}, "text": {"field": "n"}, "color": {"field": "hl", "type": "nominal", "scale": {"domain": ["yes", "no"], "range": ["#3a77c8", "#1f1f1f"]}, "legend": null}}},
   {"data": {"name": "enz"}, "transform": [{"filter": "datum.tilt == 'flat'"}], "mark": {"type": "text", "baseline": "middle", "fontSize": 10.5, "color": "#1d9c78"},
    "encoding": {"x": {"field": "u", "type": "quantitative", "axis": null}, "y": {"field": "v", "type": "quantitative", "axis": null}, "text": {"field": "e"}}},
   {"data": {"name": "enz"}, "transform": [{"filter": "datum.tilt == 'up'"}], "mark": {"type": "text", "baseline": "middle", "fontSize": 10.5, "angle": 332, "color": "#1d9c78"},
    "encoding": {"x": {"field": "u", "type": "quantitative", "axis": null}, "y": {"field": "v", "type": "quantitative", "axis": null}, "text": {"field": "e"}}},
   {"data": {"name": "enz"}, "transform": [{"filter": "datum.tilt == 'down'"}], "mark": {"type": "text", "baseline": "middle", "fontSize": 10.5, "angle": 28, "color": "#1d9c78"},
    "encoding": {"x": {"field": "u", "type": "quantitative", "axis": null}, "y": {"field": "v", "type": "quantitative", "axis": null}, "text": {"field": "e"}}}
  ]
 },
 {
  "width": 130, "height": 144,
  "title": {"text": "d", "dx": -49, "offset": -6.5},
  "layer": [
   {"data": {"name": "q"}, "mark": {"type": "bar"},
    "encoding": {
     "x": {"field": "slot", "type": "nominal", "scale": {"domain": ["egl-3/WT","egl-3/fat-1(lf)","egl-3/fat-3(lf)","egl-3/lipl-4 Tg","egl-3/lipl-4 Tg;fat-1(lf)","egl-3/lipl-4 Tg;fat-3(lf)","gap","egl-21/WT","egl-21/fat-1(lf)","egl-21/fat-3(lf)","egl-21/lipl-4 Tg","egl-21/lipl-4 Tg;fat-1(lf)","egl-21/lipl-4 Tg;fat-3(lf)"], "paddingInner": 0.07, "paddingOuter": 0.24}, "axis": {"title": null, "ticks": false, "labelAngle": 0, "bandPosition": 1, "labelFontStyle": "italic", "labelPadding": 4, "labelExpr": "datum.value == 'egl-3/fat-3(lf)' ? 'egl-3' : datum.value == 'egl-21/fat-3(lf)' ? 'egl-21' : ''"}},
     "y": {"aggregate": "mean", "field": "v", "type": "quantitative", "scale": {"domain": [0, 4], "range": [144, 26.6], "nice": false}, "axis": {"values": [0, 1, 2, 3, 4], "title": ["Fold change", "(mRNA level)"], "titlePadding": 5, "titleLineHeight": 14}},
     "color": {"field": "gt", "type": "nominal", "scale": {"domain": ["WT", "fat-1(lf)", "fat-3(lf)", "lipl-4 Tg", "lipl-4 Tg;fat-1(lf)", "lipl-4 Tg;fat-3(lf)"], "range": ["#111111", "#5a5a5a", "#3a3a3a", "#e6302e", "#f7c4c4", "#ef6b6b"]}, "legend": {"title": null, "orient": "none", "legendX": 4, "legendY": 4, "columns": 2, "symbolType": "square", "symbolSize": 40, "labelFontSize": 10, "labelFontStyle": "italic", "rowPadding": 0, "columnPadding": 2, "labelOffset": 4, "padding": 0, "symbolStrokeWidth": 0}}
    }},
   {"data": {"name": "q"}, "mark": {"type": "errorbar", "extent": "stdev", "ticks": {"size": 5}, "color": "#222222", "thickness": 0.9},
    "encoding": {"x": {"field": "slot", "type": "nominal", "axis": {"title": null, "ticks": false, "labelAngle": 0, "bandPosition": 1, "labelFontStyle": "italic", "labelPadding": 4, "labelExpr": "datum.value == 'egl-3/fat-3(lf)' ? 'egl-3' : datum.value == 'egl-21/fat-3(lf)' ? 'egl-21' : ''"}}, "y": {"field": "v", "type": "quantitative", "axis": {"values": [0, 1, 2, 3, 4], "title": ["Fold change", "(mRNA level)"], "titlePadding": 5, "titleLineHeight": 14}}}},
   {"data": {"name": "q"}, "mark": {"type": "point", "size": 14, "strokeWidth": 0.8, "opacity": 1},
    "encoding": {
     "x": {"field": "slot", "type": "nominal", "axis": {"title": null, "ticks": false, "labelAngle": 0, "bandPosition": 1, "labelFontStyle": "italic", "labelPadding": 4, "labelExpr": "datum.value == 'egl-3/fat-3(lf)' ? 'egl-3' : datum.value == 'egl-21/fat-3(lf)' ? 'egl-21' : ''"}},
     "xOffset": {"field": "rep", "type": "nominal", "scale": {"paddingOuter": 0.6}},
     "y": {"field": "v", "type": "quantitative", "axis": {"values": [0, 1, 2, 3, 4], "title": ["Fold change", "(mRNA level)"], "titlePadding": 5, "titleLineHeight": 14}},
     "shape": {"field": "gt", "type": "nominal", "scale": {"domain": ["WT", "fat-1(lf)", "fat-3(lf)", "lipl-4 Tg", "lipl-4 Tg;fat-1(lf)", "lipl-4 Tg;fat-3(lf)"], "range": ["square", "circle", "circle", "square", "triangle-up", "circle"]}, "legend": null},
     "fill": {"field": "gt", "type": "nominal", "scale": {"domain": ["WT", "fat-1(lf)", "fat-3(lf)", "lipl-4 Tg", "lipl-4 Tg;fat-1(lf)", "lipl-4 Tg;fat-3(lf)"], "range": ["#111111", "#ffffff", "#ffffff", "#111111", "#111111", "#111111"]}, "legend": null},
     "stroke": {"field": "gt", "type": "nominal", "scale": {"domain": ["WT", "fat-1(lf)", "fat-3(lf)", "lipl-4 Tg", "lipl-4 Tg;fat-1(lf)", "lipl-4 Tg;fat-3(lf)"], "range": ["#111111", "#666666", "#666666", "#111111", "#111111", "#111111"]}, "legend": null}
    }},
   {"data": {"name": "dbr"}, "mark": {"type": "rule", "color": "#555555", "strokeWidth": 0.9},
    "encoding": {"x": {"field": "a", "type": "nominal", "axis": {"title": null, "ticks": false, "labelAngle": 0, "bandPosition": 1, "labelFontStyle": "italic", "labelPadding": 4, "labelExpr": "datum.value == 'egl-3/fat-3(lf)' ? 'egl-3' : datum.value == 'egl-21/fat-3(lf)' ? 'egl-21' : ''"}}, "x2": {"field": "b"}, "y": {"field": "y1", "type": "quantitative", "axis": {"values": [0, 1, 2, 3, 4], "title": ["Fold change", "(mRNA level)"], "titlePadding": 5, "titleLineHeight": 14}}, "y2": {"field": "y2"}}},
   {"data": {"name": "dtx"}, "mark": {"type": "text", "fontSize": 11, "baseline": "alphabetic", "color": "#222222"},
    "encoding": {"x": {"field": "slot", "type": "nominal", "axis": {"title": null, "ticks": false, "labelAngle": 0, "bandPosition": 1, "labelFontStyle": "italic", "labelPadding": 4, "labelExpr": "datum.value == 'egl-3/fat-3(lf)' ? 'egl-3' : datum.value == 'egl-21/fat-3(lf)' ? 'egl-21' : ''"}}, "y": {"field": "v", "type": "quantitative", "axis": {"values": [0, 1, 2, 3, 4], "title": ["Fold change", "(mRNA level)"], "titlePadding": 5, "titleLineHeight": 14}}, "text": {"field": "t"}}}
  ]
 },
 {
  "width": 200, "height": 117,
  "title": {"text": "e", "dx": 17, "offset": -10},
  "layer": [
   {"data": {"name": "se"}, "mark": {"type": "line", "strokeWidth": 1.3},
    "encoding": {
     "x": {"field": "d", "type": "quantitative", "scale": {"domain": [0, 40], "range": [69, 200], "nice": false}, "axis": {"values": [0, 5, 10, 15, 20, 25, 30, 35, 40], "title": "Age (days)", "titlePadding": 3}},
     "y": {"field": "s", "type": "quantitative", "scale": {"domain": [0, 120], "nice": false}, "axis": {"values": [0, 20, 40, 60, 80, 100, 120], "title": "Survival (%)", "offset": -69, "titlePadding": 5}},
     "color": {"field": "grp", "type": "nominal", "scale": {"domain": ["WT EV", "fat-1 RNAi", "lipl-4 Tg EV", "lipl-4 Tg fat-1 RNAi"], "range": ["#1a1a1a", "#1a1a1a", "#e8312c", "#e8312c"]}, "legend": {"title": null, "orient": "none", "legendX": 95, "legendY": -25, "symbolType": "stroke", "symbolSize": 80, "symbolStrokeWidth": 1.4, "labelFontSize": 11, "rowPadding": 0.7, "labelOffset": 3, "padding": 0}},
     "strokeDash": {"field": "grp", "type": "nominal", "scale": {"domain": ["WT EV", "fat-1 RNAi", "lipl-4 Tg EV", "lipl-4 Tg fat-1 RNAi"], "range": [[1, 0], [4, 2], [1, 0], [4, 2]]}, "legend": {"title": null, "orient": "none", "legendX": 95, "legendY": -25, "symbolType": "stroke", "symbolSize": 80, "symbolStrokeWidth": 1.4, "labelFontSize": 11, "rowPadding": 0.7, "labelOffset": 3, "padding": 0}}
    }},
   {"data": {"name": "ebr"}, "mark": {"type": "rule", "color": "#888888", "strokeWidth": 0.8},
    "encoding": {"x": {"field": "d", "type": "quantitative", "axis": {"values": [0, 5, 10, 15, 20, 25, 30, 35, 40], "title": "Age (days)", "titlePadding": 3}}, "y": {"field": "s1", "type": "quantitative", "axis": {"values": [0, 20, 40, 60, 80, 100, 120], "title": "Survival (%)", "offset": -69, "titlePadding": 5}}, "y2": {"field": "s2"}}},
   {"data": {"name": "etx"}, "mark": {"type": "text", "baseline": "middle", "fontSize": 11, "color": "#222222"},
    "encoding": {"x": {"field": "d", "type": "quantitative", "axis": {"values": [0, 5, 10, 15, 20, 25, 30, 35, 40], "title": "Age (days)", "titlePadding": 3}}, "y": {"field": "s", "type": "quantitative", "axis": {"values": [0, 20, 40, 60, 80, 100, 120], "title": "Survival (%)", "offset": -69, "titlePadding": 5}}, "text": {"field": "t"}}}
  ]
 },
 {
  "width": 131, "height": 117,
  "title": {"text": "f", "dx": -45, "offset": -10},
  "layer": [
   {"data": {"name": "sf"}, "mark": {"type": "line", "strokeWidth": 1.3},
    "encoding": {
     "x": {"field": "d", "type": "quantitative", "scale": {"domain": [0, 40], "nice": false}, "axis": {"values": [0, 5, 10, 15, 20, 25, 30, 35, 40], "title": "Age (days)", "titlePadding": 3}},
     "y": {"field": "s", "type": "quantitative", "scale": {"domain": [0, 120], "nice": false}, "axis": {"values": [0, 20, 40, 60, 80, 100, 120], "title": "Survival (%)", "titlePadding": 5}},
     "color": {"field": "grp", "type": "nominal", "scale": {"domain": ["WT EV", "fat-3 RNAi", "lipl-4 Tg EV", "lipl-4 Tg fat-3 RNAi"], "range": ["#1a1a1a", "#1a1a1a", "#e8312c", "#e8312c"]}, "legend": {"title": null, "orient": "none", "legendX": 26, "legendY": -25, "symbolType": "stroke", "symbolSize": 80, "symbolStrokeWidth": 1.4, "labelFontSize": 11, "rowPadding": 0.7, "labelOffset": 3, "padding": 0}},
     "strokeDash": {"field": "grp", "type": "nominal", "scale": {"domain": ["WT EV", "fat-3 RNAi", "lipl-4 Tg EV", "lipl-4 Tg fat-3 RNAi"], "range": [[1, 0], [4, 2], [1, 0], [4, 2]]}, "legend": {"title": null, "orient": "none", "legendX": 26, "legendY": -25, "symbolType": "stroke", "symbolSize": 80, "symbolStrokeWidth": 1.4, "labelFontSize": 11, "rowPadding": 0.7, "labelOffset": 3, "padding": 0}}
    }},
   {"data": {"name": "fbr"}, "mark": {"type": "rule", "color": "#888888", "strokeWidth": 0.8},
    "encoding": {"x": {"field": "d", "type": "quantitative", "axis": {"values": [0, 5, 10, 15, 20, 25, 30, 35, 40], "title": "Age (days)", "titlePadding": 3}}, "y": {"field": "s1", "type": "quantitative", "axis": {"values": [0, 20, 40, 60, 80, 100, 120], "title": "Survival (%)", "titlePadding": 5}}, "y2": {"field": "s2"}}},
   {"data": {"name": "ftx"}, "mark": {"type": "text", "baseline": "middle", "fontSize": 11, "color": "#222222"},
    "encoding": {"x": {"field": "d", "type": "quantitative", "axis": {"values": [0, 5, 10, 15, 20, 25, 30, 35, 40], "title": "Age (days)", "titlePadding": 3}}, "y": {"field": "s", "type": "quantitative", "axis": {"values": [0, 20, 40, 60, 80, 100, 120], "title": "Survival (%)", "titlePadding": 5}}, "text": {"field": "t"}}}
  ]
 }
]
}
